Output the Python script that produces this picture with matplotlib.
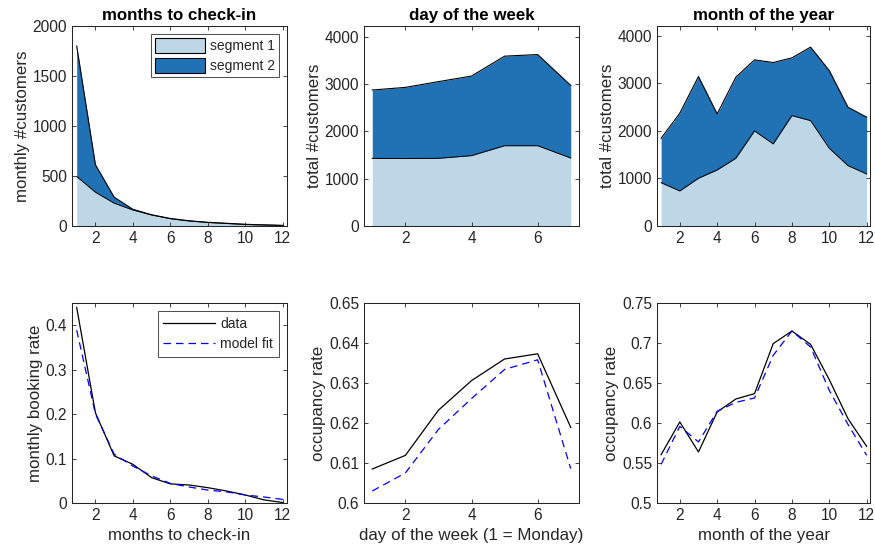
import matplotlib
matplotlib.use("Agg")
import matplotlib.pyplot as plt
from matplotlib.patches import Patch
from matplotlib.lines import Line2D
import numpy as np

plt.rcParams['font.family'] = ['Liberation Sans', 'DejaVu Sans']

# ---- data ----
months_ahead = list(range(1, 13))
ahead_seg1 = [495, 338, 228, 160, 110, 73, 50, 35, 25, 15, 10, 5]
ahead_total = [1800, 612, 288, 167, 112, 75, 52, 37, 27, 17, 11, 6]

weekdays = list(range(1, 8))
week_seg1 = [1429, 1425, 1430, 1486, 1696, 1696, 1436]
week_total = [2873, 2928, 3050, 3167, 3588, 3622, 2970]

months = list(range(1, 13))
month_seg1 = [910, 736, 1003, 1177, 1423, 1997, 1724, 2318, 2213, 1633, 1268, 1093]
month_total = [1843, 2369, 3139, 2354, 3125, 3489, 3433, 3531, 3756, 3264, 2495, 2285]

ahead_data = [0.44, 0.203, 0.106, 0.087, 0.057, 0.043, 0.0405, 0.0345, 0.027, 0.018, 0.007, 0.001]
ahead_fit = [0.389, 0.200, 0.110, 0.083, 0.061, 0.044, 0.036, 0.029, 0.025, 0.018, 0.0135, 0.008]

week_data = [0.6085, 0.6119, 0.6232, 0.6306, 0.6360, 0.6373, 0.6189]
week_fit = [0.6030, 0.6075, 0.6184, 0.6261, 0.6334, 0.6358, 0.6086]

month_data = [0.5604, 0.6013, 0.5638, 0.6138, 0.6300, 0.6367, 0.6992, 0.7150, 0.6983, 0.6542, 0.6054, 0.5708]
month_fit = [0.5483, 0.5958, 0.5763, 0.6146, 0.6258, 0.6313, 0.6846, 0.7150, 0.6950, 0.6408, 0.5983, 0.5596]

seg_labels = ['segment 1', 'segment 2']
line_labels = ['data', 'model fit']

LIGHT = '#BDD7E7'
DARK = '#2171B5'
AXC = (0.15, 0.15, 0.15)
TICK_FS = 11.2
LAB_FS = 12.2
LEG_FS = 10.0

fig = plt.figure(figsize=(8.75, 5.56), dpi=100)

lefts = [72 / 875, 364 / 875, 657 / 875]
widths = [215 / 875, 215 / 875, 213 / 875]
top_row = (1 - 226 / 556, 200 / 556)
bot_row = (1 - 503 / 556, 200 / 556)


def style(ax):
    for s in ax.spines.values():
        s.set_color(AXC)
        s.set_linewidth(0.75)
    ax.tick_params(direction='in', top=True, right=True, length=3, width=0.6,
                   colors=AXC, labelsize=TICK_FS, labelcolor=AXC)


def area(ax, x, seg1, total):
    x = np.asarray(x)
    s1 = np.asarray(seg1)
    tot = np.asarray(total)
    ax.fill_between(x, 0, s1, color=LIGHT, linewidth=0)
    ax.fill_between(x, s1, tot, color=DARK, linewidth=0)
    ax.plot(x, s1, color='black', lw=0.7)
    ax.plot(x, tot, color='black', lw=0.8)


axes_top = [fig.add_axes([l, top_row[0], w, top_row[1]]) for l, w in zip(lefts, widths)]
axes_bot = [fig.add_axes([l, bot_row[0], w, bot_row[1]]) for l, w in zip(lefts, widths)]

# top-left
ax = axes_top[0]
area(ax, months_ahead, ahead_seg1, ahead_total)
ax.set_xlim(0.75, 12.22)
ax.set_ylim(0, 2000)
ax.set_xticks([2, 4, 6, 8, 10, 12])
ax.set_yticks([0, 500, 1000, 1500, 2000])
ax.set_ylabel('monthly #customers', fontsize=LAB_FS, color=AXC, labelpad=2)
ax.set_title('months to check-in', fontsize=LAB_FS, fontweight='bold', pad=4)
handles = [Patch(facecolor=LIGHT, edgecolor='black', linewidth=0.8),
           Patch(facecolor=DARK, edgecolor='black', linewidth=0.8)]
leg = ax.legend(handles, seg_labels, loc='upper right', fontsize=LEG_FS, frameon=True,
                fancybox=False, edgecolor=AXC, handlelength=3.6, handleheight=1.35,
                handletextpad=0.35, borderpad=0.3, labelspacing=0.3,
                borderaxespad=0.55)
leg.get_frame().set_linewidth(0.75)
for t in leg.get_texts():
    t.set_color(AXC)

# top-middle
ax = axes_top[1]
area(ax, weekdays, week_seg1, week_total)
ax.set_xlim(0.75, 7.25)
ax.set_ylim(0, 4225)
ax.set_xticks([2, 4, 6])
ax.set_yticks([0, 1000, 2000, 3000, 4000])
ax.set_ylabel('total #customers', fontsize=LAB_FS, color=AXC, labelpad=2)
ax.set_title('day of the week', fontsize=LAB_FS, fontweight='bold', pad=4)

# top-right
ax = axes_top[2]
area(ax, months, month_seg1, month_total)
ax.set_xlim(0.78, 12.18)
ax.set_ylim(0, 4200)
ax.set_xticks([2, 4, 6, 8, 10, 12])
ax.set_yticks([0, 1000, 2000, 3000, 4000])
ax.set_ylabel('total #customers', fontsize=LAB_FS, color=AXC, labelpad=2)
ax.set_title('month of the year', fontsize=LAB_FS, fontweight='bold', pad=4)

# bottom-left
ax = axes_bot[0]
ax.plot(months_ahead, ahead_data, color='black', lw=0.9)
ax.plot(months_ahead, ahead_fit, color='blue', lw=0.9, ls=(0, (6, 4)))
ax.set_xlim(0.75, 12.22)
ax.set_ylim(0, 0.45)
ax.set_xticks([2, 4, 6, 8, 10, 12])
ax.set_yticks([0, 0.1, 0.2, 0.3, 0.4])
ax.set_yticklabels(['0', '0.1', '0.2', '0.3', '0.4'])
ax.set_xlabel('months to check-in', fontsize=LAB_FS, color=AXC)
ax.set_ylabel('monthly booking rate', fontsize=LAB_FS, color=AXC, labelpad=2)
lh = [Line2D([], [], color='black', lw=0.9),
      Line2D([], [], color='blue', lw=0.9, ls=(0, (6, 4)))]
leg = ax.legend(lh, line_labels, loc='upper right', fontsize=LEG_FS, frameon=True,
                fancybox=False, edgecolor=AXC, handlelength=3.7,
                handletextpad=0.4, borderpad=0.4, labelspacing=0.45,
                borderaxespad=0.6)
leg.get_frame().set_linewidth(0.75)
for t in leg.get_texts():
    t.set_color(AXC)

# bottom-middle
ax = axes_bot[1]
ax.plot(weekdays, week_data, color='black', lw=0.9)
ax.plot(weekdays, week_fit, color='blue', lw=0.9, ls=(0, (6, 4)))
ax.set_xlim(0.75, 7.25)
ax.set_ylim(0.6, 0.65)
ax.set_xticks([2, 4, 6])
ax.set_yticks([0.6, 0.61, 0.62, 0.63, 0.64, 0.65])
ax.set_yticklabels(['0.6', '0.61', '0.62', '0.63', '0.64', '0.65'])
ax.set_xlabel('day of the week (1 = Monday)', fontsize=LAB_FS, color=AXC)
ax.set_ylabel('occupancy rate', fontsize=LAB_FS, color=AXC, labelpad=2)

# bottom-right
ax = axes_bot[2]
ax.plot(months, month_data, color='black', lw=0.9)
ax.plot(months, month_fit, color='blue', lw=0.9, ls=(0, (6, 4)))
ax.set_xlim(0.78, 12.18)
ax.set_ylim(0.5, 0.75)
ax.set_xticks([2, 4, 6, 8, 10, 12])
ax.set_yticks([0.5, 0.55, 0.6, 0.65, 0.7, 0.75])
ax.set_yticklabels(['0.5', '0.55', '0.6', '0.65', '0.7', '0.75'])
ax.set_xlabel('month of the year', fontsize=LAB_FS, color=AXC)
ax.set_ylabel('occupancy rate', fontsize=LAB_FS, color=AXC, labelpad=2)

for ax in axes_top + axes_bot:
    style(ax)

fig.savefig('out.png', dpi=100)
